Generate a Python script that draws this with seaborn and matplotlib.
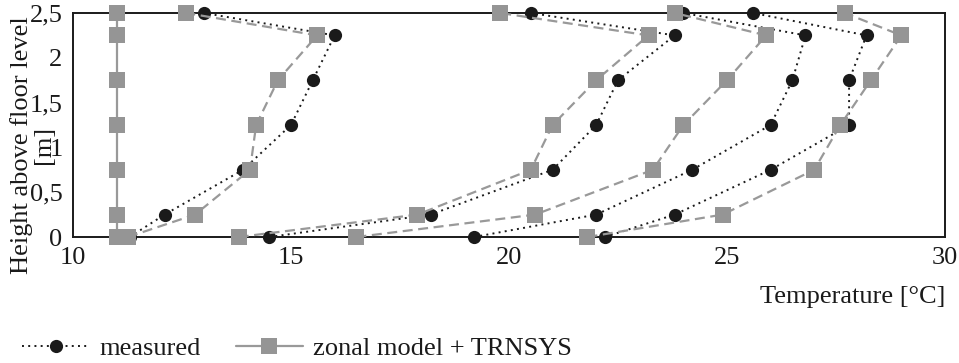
import matplotlib
matplotlib.use("Agg")
import matplotlib.pyplot as plt
from matplotlib.lines import Line2D
import seaborn as sns
import pandas as pd

# ---- data ----
heights = [0, 0.25, 0.75, 1.25, 1.75, 2.25, 2.5]

measured_b = [11.3, 12.1, 13.9, 15.0, 15.5, 16.0, 13.0]
measured_c = [14.5, 18.2, 21.0, 22.0, 22.5, 23.8, 20.5]
measured_d = [19.2, 22.0, 24.2, 26.0, 26.5, 26.8, 24.0]
measured_e = [22.2, 23.8, 26.0, 27.8, 27.8, 28.2, 25.6]

model_a = [11.0, 11.0, 11.0, 11.0, 11.0, 11.0, 11.0]
model_b = [11.26, 12.8, 14.06, 14.2, 14.7, 15.6, 12.6]
model_c = [13.8, 17.9, 20.5, 21.0, 22.0, 23.2, 19.8]
model_d = [16.5, 20.6, 23.3, 24.0, 25.0, 25.9, 23.8]
model_e = [21.8, 24.9, 27.0, 27.6, 28.3, 29.0, 27.7]

x_ticks = [10, 15, 20, 25, 30]
y_ticks = [0, 0.5, 1, 1.5, 2, 2.5]
y_tick_labels = ["0", "0,5", "1", "1,5", "2", "2,5"]

legend_labels = ["measured", "zonal model + TRNSYS"]
x_label = "Temperature [°C]"
y_label = "Height above floor level\n[m]"

# ---- style ----
sns.set_style("white")
plt.rcParams["font.family"] = ["Liberation Serif", "DejaVu Serif"]
FS = 19
BLACK = "#1a1a1a"
GREY = "#999999"

fig = plt.figure(figsize=(9.59, 3.63), dpi=100)
ax = fig.add_axes([73 / 959, 1 - 237 / 363, (945 - 73) / 959, (237 - 13) / 363])

def profile(temps):
    return pd.DataFrame({"temp": temps, "height": heights})

meas_kw = dict(color=BLACK, linestyle=(0, (1, 2.2)), linewidth=1.4,
               marker="o", markersize=9.5, markeredgewidth=0,
               markerfacecolor=BLACK, clip_on=False)
model_kw = dict(color=GREY, linewidth=1.6, marker="s", markersize=11,
                markeredgewidth=0, markerfacecolor="#959595", clip_on=False)

for temps in [measured_b, measured_c, measured_d, measured_e]:
    sns.lineplot(data=profile(temps), x="temp", y="height", sort=False,
                 estimator=None, ax=ax, **meas_kw)

sns.lineplot(data=profile(model_a), x="temp", y="height", sort=False,
             estimator=None, ax=ax, **model_kw)
for temps in [model_b, model_c, model_d, model_e]:
    sns.lineplot(data=profile(temps), x="temp", y="height", sort=False,
                 estimator=None, ax=ax, linestyle=(0, (4.5, 2.5)), **model_kw)

ax.set_xlim(10, 30)
ax.set_ylim(0, 2.5)
ax.set_xticks(x_ticks)
ax.set_xticklabels([str(t) for t in x_ticks])
ax.set_yticks(y_ticks)
ax.set_yticklabels(y_tick_labels)
ax.tick_params(axis="both", direction="out", length=6, width=1.2,
               color=BLACK, labelsize=FS, labelcolor=BLACK, pad=1.5)
for sp in ax.spines.values():
    sp.set_visible(True)
    sp.set_color(BLACK)
    sp.set_linewidth(1.4)
    sp.set_zorder(1)

ax.set_xlabel(x_label, fontsize=FS, color=BLACK, loc="right", labelpad=12)
ax.set_ylabel("")
ax.grid(False)

fig.text(33 / 959, 1 - 145 / 363, y_label, rotation=90, ha="center",
         va="center", multialignment="center", fontsize=FS, color=BLACK,
         linespacing=1.0)

handles = [
    Line2D([], [], color=BLACK, linestyle=(0, (1, 2.2)), linewidth=1.4,
           marker="o", markersize=9.5, markeredgewidth=0),
    Line2D([], [], color=GREY, linestyle="-", linewidth=1.6, marker="s",
           markersize=11, markeredgewidth=0, markerfacecolor="#959595"),
]
fig.legend(handles, legend_labels, loc="center left",
           bbox_to_anchor=(22 / 959, 1 - 348 / 363), ncol=2, frameon=False,
           fontsize=FS, handlelength=2.55, handletextpad=0.4,
           columnspacing=1.3, borderpad=0, borderaxespad=0,
           labelcolor=BLACK)

fig.savefig("out.png", dpi=100)
